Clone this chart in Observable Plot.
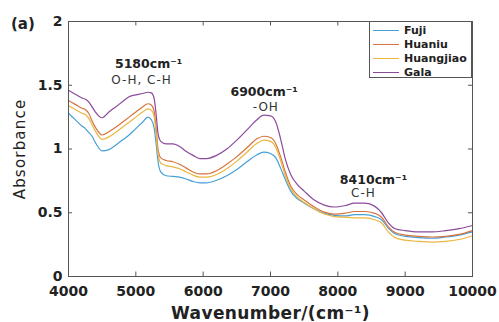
<!DOCTYPE html>
<html>
<head>
<meta charset="utf-8">
<script src="https://cdn.jsdelivr.net/npm/d3@7"></script>
<script src="https://cdn.jsdelivr.net/npm/@observablehq/plot@0.6"></script>
<style>
  body { margin: 0; background: #fff; font-family: "DejaVu Sans", sans-serif; }
  #wrap { position: relative; width: 499px; height: 322px; }
  #tag { position: absolute; left: 11px; top: 15px; font: bold 15px "DejaVu Sans", sans-serif; color: #222; line-height: 18px; }
  #legend { position: absolute; left: 369px; top: 21px; width: 103px; height: 57px; background: #fff; border: 1px solid #555; font: bold 11px "DejaVu Sans", sans-serif; color: #222; padding-top: 1px; box-sizing: border-box; }
  .row { display: flex; align-items: center; height: 14px; }
  .sw { width: 26px; height: 0; border-top: 1.3px solid; margin: 0 5px 0 3px; }
</style>
</head>
<body>
<div id="wrap">
  <div id="chart"></div>
  <div id="tag">(a)</div>
  <div id="legend"></div>
</div>
<script>
const wavenumber = [4000,4100,4200,4250,4300,4350,4400,4500,4600,4700,4800,4900,5000,5100,5180,5230,5270,5300,5330,5370,5450,5550,5650,5750,5850,5950,6050,6200,6350,6500,6650,6800,6900,7000,7080,7150,7220,7300,7400,7500,7650,7800,7950,8100,8250,8400,8550,8650,8750,8850,9000,9200,9400,9600,9800,10000];

const fuji = [1.28,1.23,1.18,1.16,1.13,1.10,1.05,0.985,0.995,1.03,1.07,1.11,1.16,1.21,1.25,1.23,1.17,1.05,0.90,0.82,0.79,0.785,0.78,0.765,0.745,0.735,0.735,0.755,0.79,0.84,0.90,0.955,0.975,0.965,0.93,0.85,0.76,0.67,0.61,0.575,0.53,0.495,0.48,0.475,0.485,0.485,0.47,0.445,0.38,0.335,0.315,0.305,0.30,0.31,0.325,0.35];

const huaniu = [1.38,1.35,1.32,1.31,1.28,1.22,1.17,1.11,1.135,1.17,1.21,1.25,1.29,1.33,1.355,1.345,1.30,1.17,1.00,0.93,0.91,0.90,0.88,0.85,0.82,0.805,0.805,0.83,0.88,0.94,1.01,1.08,1.10,1.09,1.04,0.94,0.82,0.71,0.64,0.60,0.545,0.505,0.49,0.495,0.51,0.51,0.495,0.465,0.39,0.345,0.325,0.315,0.31,0.315,0.33,0.36];

const huangjiao = [1.34,1.31,1.28,1.27,1.24,1.19,1.14,1.075,1.095,1.13,1.17,1.21,1.25,1.29,1.315,1.305,1.26,1.13,0.96,0.89,0.87,0.86,0.845,0.82,0.795,0.78,0.78,0.80,0.845,0.905,0.975,1.045,1.07,1.06,1.01,0.91,0.79,0.69,0.62,0.58,0.53,0.49,0.47,0.465,0.46,0.46,0.445,0.42,0.35,0.305,0.285,0.275,0.27,0.275,0.29,0.32];

const gala = [1.46,1.43,1.40,1.39,1.37,1.33,1.29,1.245,1.29,1.33,1.37,1.41,1.425,1.435,1.445,1.44,1.40,1.28,1.12,1.06,1.04,1.04,1.02,0.98,0.95,0.925,0.925,0.95,1.00,1.07,1.15,1.23,1.265,1.26,1.21,1.08,0.92,0.80,0.72,0.67,0.60,0.56,0.545,0.555,0.575,0.575,0.55,0.50,0.42,0.375,0.36,0.35,0.35,0.36,0.375,0.40];

const seriesNames = ["Fuji", "Huaniu", "Huangjiao", "Gala"];
const seriesValues = [fuji, huaniu, huangjiao, gala];
const seriesColors = ["#45a0d6", "#d8733d", "#e9b640", "#8c4a9c"];

const xTicks = [4000,5000,6000,7000,8000,9000,10000];
const yTicks = [0,0.5,1,1.5,2];

const peakLabels = [
  {x: 5190, y: 1.665, text: "5180cm⁻¹", bold: true},
  {x: 5085, y: 1.54, text: "O-H, C-H", bold: false},
  {x: 6905, y: 1.445, text: "6900cm⁻¹", bold: true},
  {x: 6930, y: 1.33, text: "-OH", bold: false},
  {x: 8530, y: 0.76, text: "8410cm⁻¹", bold: true},
  {x: 8380, y: 0.65, text: "C-H", bold: false}
];

const rows = [];
seriesNames.forEach((name, i) => {
  wavenumber.forEach((w, j) => rows.push({series: name, wn: w, abs: seriesValues[i][j]}));
});

const chart = Plot.plot({
  width: 499,
  height: 322,
  marginLeft: 68,
  marginRight: 27,
  marginTop: 21,
  marginBottom: 46,
  style: {fontFamily: "'DejaVu Sans', sans-serif", color: "#222", background: "#fff"},
  x: {domain: [4000, 10000]},
  y: {domain: [0, 2]},
  color: {domain: seriesNames, range: seriesColors},
  marks: [
    Plot.axisX({ticks: xTicks, tickSize: 0, tickPadding: 10, tickFormat: d => String(d), fontSize: 14, fontWeight: "bold",
      label: "Wavenumber/(cm⁻¹)", labelAnchor: "center", labelArrow: "none", labelOffset: 42}),
    Plot.axisY({ticks: yTicks, tickSize: 0, tickPadding: 6, tickFormat: d => String(d), fontSize: 14, fontWeight: "bold",
      label: "Absorbance", labelAnchor: "center", labelArrow: "none", labelOffset: 54}),
    Plot.ruleX(xTicks, {y1: 0, y2: 0.035, stroke: "#555"}),
    Plot.ruleX(xTicks, {y1: 1.965, y2: 2, stroke: "#555"}),
    Plot.ruleY(yTicks, {x1: 4000, x2: 4060, stroke: "#555"}),
    Plot.ruleY(yTicks, {x1: 9940, x2: 10000, stroke: "#555"}),
    Plot.line(rows, {x: "wn", y: "abs", z: "series", stroke: "series", strokeWidth: 1.2, curve: "monotone-x"}),
    Plot.text(peakLabels.filter(d => d.bold), {x: "x", y: "y", text: "text", fontSize: 12.5, fontWeight: "bold", fill: "#222"}),
    Plot.text(peakLabels.filter(d => !d.bold), {x: "x", y: "y", text: "text", fontSize: 12, fill: "#333", className: "reg-label"}),
    Plot.frame({stroke: "#555"})
  ]
});

// style axis labels
chart.querySelectorAll("g[aria-label='x-axis label']").forEach(g => {
  g.setAttribute("font-weight", "bold"); g.setAttribute("font-size", "17"); g.setAttribute("letter-spacing", "0.4");
});
chart.querySelectorAll("g[aria-label='y-axis label']").forEach(g => {
  g.setAttribute("font-weight", "normal"); g.setAttribute("font-size", "15"); g.setAttribute("letter-spacing", "1.2");
});
chart.querySelectorAll("g[aria-label='x-axis label'] text").forEach(t => {
  t.setAttribute("font-weight", "bold"); t.setAttribute("font-size", "17");
});
chart.querySelectorAll("g[aria-label='y-axis label'] text").forEach(t => {
  t.setAttribute("font-weight", "normal"); t.setAttribute("font-size", "15");
});
chart.querySelectorAll("g.reg-label").forEach(g => g.setAttribute("letter-spacing", "1"));

document.getElementById("chart").appendChild(chart);

const legend = document.getElementById("legend");
seriesNames.forEach((name, i) => {
  const r = document.createElement("div");
  r.className = "row";
  const s = document.createElement("div");
  s.className = "sw";
  s.style.borderTopColor = seriesColors[i];
  const t = document.createElement("span");
  t.textContent = name;
  r.appendChild(s); r.appendChild(t);
  legend.appendChild(r);
});
</script>
</body>
</html>
